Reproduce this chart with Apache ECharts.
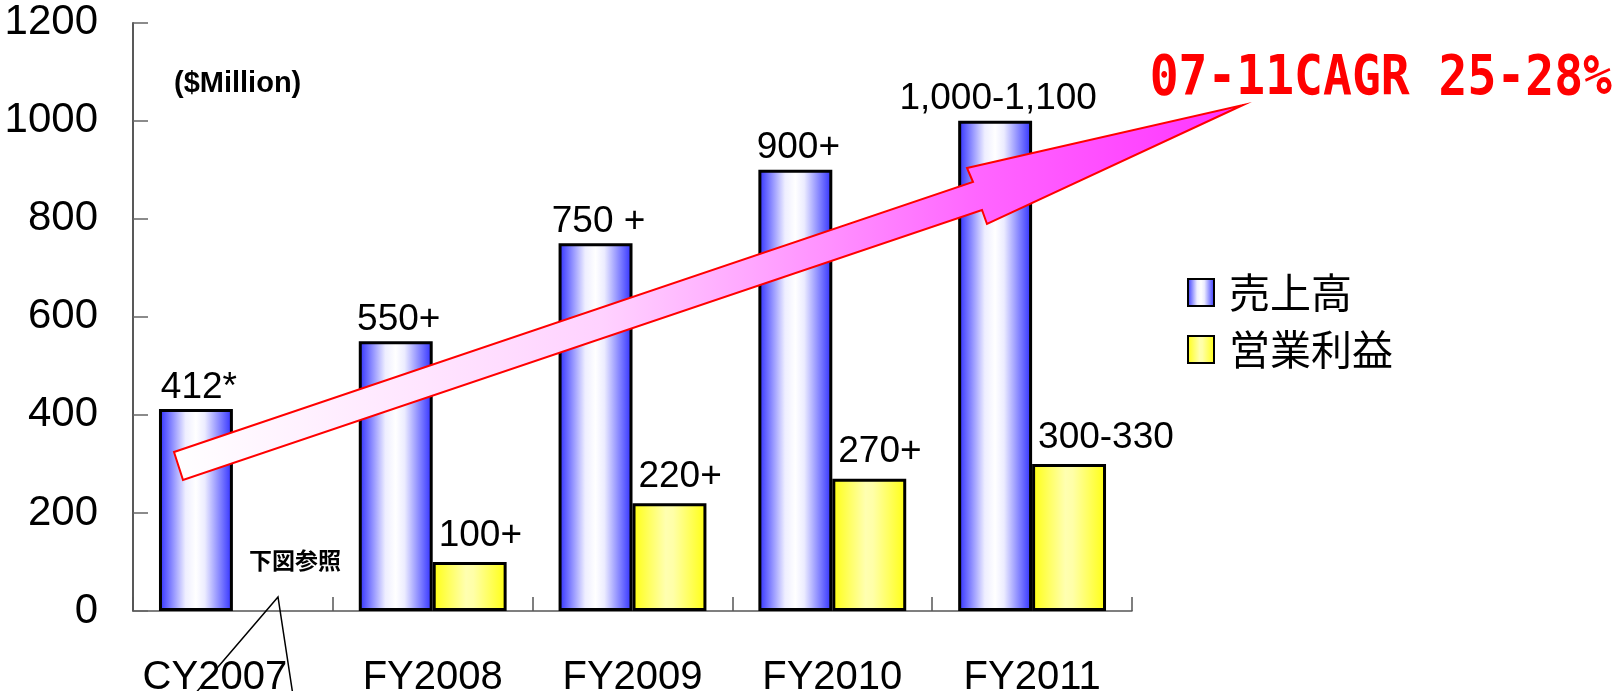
<!DOCTYPE html>
<html>
<head>
<meta charset="utf-8">
<style>
  html, body { margin: 0; padding: 0; background: #ffffff; }
  #chart { width: 1618px; height: 691px; }
</style>
<script src="https://cdn.jsdelivr.net/npm/echarts@6/dist/echarts.min.js"></script>
</head>
<body>
<div id="chart"></div>
<script>
// Fiscal periods on the x axis
const categories = ['CY2007', 'FY2008', 'FY2009', 'FY2010', 'FY2011'];
// Revenue (売上高), $ million
const salesValues = [412, 550, 750, 900, 1000];
const salesLabels = ['412*', '550+', '750 +', '900+', '1,000-1,100'];
// Operating profit (営業利益), $ million; CY2007 is shown separately
const profitValues = ['-', 100, 220, 270, 300];
const profitLabels = ['', '100+', '220+', '270+', '300-330'];
// Value axis
const yMin = 0, yMax = 1200, yStep = 200;

const seriesNames = ['売上高', '営業利益'];
const unitText = '($Million)';
const noteText = '下図参照';
const cagrText = '07-11CAGR 25-28%';

const chart = echarts.init(document.getElementById('chart'), null, { renderer: 'canvas' });

const blueFill = new echarts.graphic.LinearGradient(0, 0, 1, 0, [
  { offset: 0, color: '#2b2bff' },
  { offset: 0.36, color: '#eeeeff' },
  { offset: 0.5, color: '#ffffff' },
  { offset: 0.62, color: '#ececff' },
  { offset: 1, color: '#2b2bff' }
]);
const yellowFill = new echarts.graphic.LinearGradient(0, 0, 1, 0, [
  { offset: 0, color: '#ffff10' },
  { offset: 0.45, color: '#ffffb0' },
  { offset: 0.55, color: '#ffffa8' },
  { offset: 1, color: '#ffff10' }
]);

const latin = "'Liberation Sans', Arial, sans-serif";
const cjk = "'Noto Sans CJK JP', 'Noto Sans', sans-serif";

chart.setOption({
  animation: false,
  backgroundColor: '#ffffff',
  grid: { left: 133, right: 486, top: 22.7, bottom: 80, containLabel: false, outerBoundsMode: 'none' },
  legend: {
    data: seriesNames,
    orient: 'vertical',
    left: 1182,
    top: 267,
    itemWidth: 26,
    itemHeight: 27,
    itemGap: 16,
    icon: 'rect',
    textStyle: { fontFamily: cjk, fontSize: 41, color: '#000', padding: [0, 0, 0, 10] }
  },
  xAxis: {
    type: 'category',
    data: categories,
    axisLine: { lineStyle: { color: '#555', width: 1.5 } },
    axisTick: { show: true, inside: true, length: 14, lineStyle: { color: '#555', width: 1.5 } },
    axisLabel: {
      interval: 0,
      fontFamily: latin, fontSize: 40, color: '#000', margin: 47,
      // the first period label sits a little left of its bar pair
      formatter: (v, i) => i === 0 ? '{first|' + v + '}' : v,
      rich: { first: { fontFamily: latin, fontSize: 40, color: '#000', padding: [0, 36, 0, 0] } }
    },
    splitLine: { show: false }
  },
  yAxis: {
    type: 'value',
    min: yMin, max: yMax, interval: yStep,
    axisLine: { show: true, lineStyle: { color: '#222', width: 1.5 } },
    axisTick: { show: true, inside: true, length: 15, lineStyle: { color: '#666', width: 1.5 } },
    axisLabel: { fontFamily: latin, fontSize: 42, color: '#000', margin: 35, formatter: v => String(v) },
    splitLine: { show: false }
  },
  series: [
    {
      name: seriesNames[0],
      type: 'bar',
      data: salesValues,
      barGap: '0%',
      barCategoryGap: '26%',
      itemStyle: { color: blueFill, borderColor: '#000', borderWidth: 3 },
      label: {
        show: true, position: 'top', distance: 3, offset: [3, 0],
        fontFamily: latin, fontSize: 37, color: '#000',
        formatter: p => salesLabels[p.dataIndex]
      }
    },
    {
      name: seriesNames[1],
      type: 'bar',
      data: profitValues,
      itemStyle: { color: yellowFill, borderColor: '#000', borderWidth: 3 },
      label: {
        show: true, position: 'top', distance: 8, align: 'left', offset: [-31, 0],
        fontFamily: latin, fontSize: 37, color: '#000',
        formatter: p => profitLabels[p.dataIndex]
      }
    }
  ]
});

// Annotations: unit note, CY2007 note with its callout, growth arrow and CAGR text
const base = chart.convertToPixel({ gridIndex: 0 }, [0, 0]);

const arrowPoints = [
  [174, 452], [973, 182], [967, 168], [1243, 105],
  [987, 224], [982, 210], [183, 480]
];

chart.setOption({
  graphic: [
    {
      type: 'text', left: 174, top: 69, z: 10,
      style: { text: unitText, font: "bold 29px 'Liberation Sans', Arial, sans-serif", fill: '#000' }
    },
    {
      type: 'text', x: base[0] + 62, y: base[1] - 51, z: 10,
      style: { text: noteText, font: "bold 23px 'Noto Sans CJK JP', sans-serif", fill: '#000', align: 'center', verticalAlign: 'middle' }
    },
    {
      type: 'polyline', z: 10,
      shape: { points: [[188, 702], [278, 597], [294, 702]] },
      style: { stroke: '#000', lineWidth: 1.5, fill: null }
    },
    {
      type: 'polygon', z: 20,
      shape: { points: arrowPoints },
      style: {
        fill: new echarts.graphic.LinearGradient(0, 0, 1, 0, [
          { offset: 0, color: '#ffffff' },
          { offset: 0.4, color: '#ffd2ff' },
          { offset: 0.75, color: '#ff66ff' },
          { offset: 1, color: '#ff33ff' }
        ]),
        stroke: '#ff0000', lineWidth: 2
      }
    },
    {
      type: 'text', x: 1612, y: 80, scaleY: 1.15, z: 30,
      style: { text: cagrText, font: "bold 48px 'DejaVu Sans Mono', monospace", fill: '#ff0000', align: 'right', verticalAlign: 'middle' }
    }
  ]
});
</script>
</body>
</html>
